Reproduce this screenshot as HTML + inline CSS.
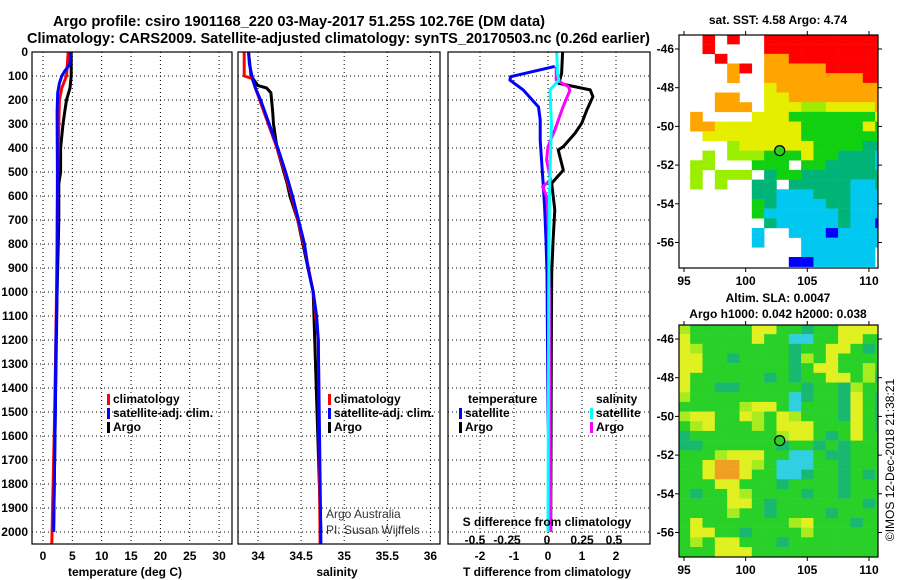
<!DOCTYPE html>
<html><head><meta charset="utf-8">
<style>
html,body{margin:0;padding:0;background:#fff;}
svg{display:block;font-family:"Liberation Sans",sans-serif;}
.t{font-size:12px;font-weight:bold;fill:#000;}
</style></head>
<body>
<svg id="fig" width="900" height="580" viewBox="0 0 900 580" xmlns="http://www.w3.org/2000/svg">
<rect width="900" height="580" fill="#fff"/>
<text x="53" y="26" class="t" style="font-size:15px" textLength="492" lengthAdjust="spacingAndGlyphs">Argo profile: csiro 1901168_220 03-May-2017 51.25S 102.76E (DM data)</text>
<text x="27" y="43" class="t" style="font-size:15px" textLength="623" lengthAdjust="spacingAndGlyphs">Climatology: CARS2009. Satellite-adjusted climatology: synTS_20170503.nc (0.26d earlier)</text>
<g id="g"></g>
</svg>
<script>
// ---- profile data (depth in m) ----
const tClimDepth = [0,100,150,200,300,500,800,1200,1600,2050];
const tClimVal   = [4.3,4.0,3.2,2.8,2.7,2.5,2.4,2.2,1.9,1.5];
const tSatDepth  = [0,50,80,100,130,170,250,500,1000,1200,1500,2000];
const tSatVal    = [4.7,4.6,3.7,3.2,2.8,2.5,2.4,2.45,2.4,2.2,2.1,1.8];
const tArgoDepth = [0,100,150,200,250,300,400,500,550,700,1000,1500,2000];
const tArgoVal   = [4.8,4.8,4.6,4.0,3.7,3.4,3.0,3.0,2.7,2.7,2.4,2.1,1.8];

const sClimDepth = [0,100,110,150,200,300,400,500,600,700,800,1000,1200,2050];
const sClimVal   = [33.84,33.84,33.93,33.97,34.02,34.12,34.22,34.31,34.39,34.46,34.53,34.64,34.70,34.72];
const sSatDepth  = [0,50,100,150,200,300,400,500,600,700,800,900,1000,1100,1200,2050];
const sSatVal    = [33.89,33.9,33.93,33.97,34.03,34.13,34.23,34.32,34.40,34.47,34.54,34.58,34.64,34.68,34.70,34.73];
const sArgoDepth = [0,100,140,150,170,250,300,400,450,500,550,600,700,1000,2000];
const sArgoVal   = [33.89,33.92,34.0,34.1,34.15,34.17,34.18,34.22,34.26,34.30,34.34,34.37,34.46,34.64,34.73];

const dtSatDepth  = [60,103,117,158,229,283,367,533,644,783,922,1500,2000];
const dtSatVal    = [0.2,-1.1,-1.12,-0.73,-0.28,-0.23,-0.23,-0.15,-0.1,-0.06,-0.03,0.0,0.08];
const dtArgoDepth = [0,89,131,158,186,242,297,339,394,408,492,547,658,783,922,1144,2000];
const dtArgoVal   = [0.43,0.4,0.32,1.24,1.32,1.14,0.99,0.79,0.45,0.3,0.45,0.11,0.2,0.15,0.11,0.1,0.08];
const dsSatDepth  = [0,89,117,158,300,600,1000,2000];
const dsSatVal    = [0.064,0.07,0.08,0.015,0.025,0.01,0.005,0.0];
const dsArgoDepth = [61,117,144,160,229,325,394,450,533,561,603,672,1000,2000];
const dsArgoVal   = [0.06,0.06,0.15,0.16,0.11,0.05,0,-0.01,0.02,-0.04,-0.01,0,0.01,0.02];

// ticks
const depthTicks = [0,100,200,300,400,500,600,700,800,900,1000,1100,1200,1300,1400,1500,1600,1700,1800,1900,2000];
const tTicks = [0,5,10,15,20,25,30];
const sTicks = [34,34.5,35,35.5,36];
const sTickLabels = ["34","34.5","35","35.5","36"];
const dtTicks = [-2,-1,0,1,2];
const dsTicks = [-0.5,-0.25,0,0.25,0.5];
const dsTickLabels = ["-0.5","-0.25","0","0.25","0.5"];
const lonTicks = [95,100,105,110];
const latTicks = [-46,-48,-50,-52,-54,-56];

// map grids: columns lon 95..111 (1 deg), rows lat -45.5..-57 (0.5 deg)
const sstGrid = [
"..R.R..RRRRRRRRRR","..R....RRRRRRRRRR","...R...OORRRRRRRR","....OR.OOOOORRRRR",
"....O..OOOOOOOORR",".......YOOOOOOOOO","...OO..YYOOOOOOOO","...OOO.YYYLLYYYYO",
".O....YYYGGGGGGGY",".OOYYYYYYYGGGGGYG","..YYYYYYYYGGGGGGG","....LYYYYYYGGGGTT",
"..L.LLLGGGYGGTTTC",".LL...GGG.GGTTTTC",".L.LLL.TGGTTTTTTT",".L.L..TT.TTTTTCCT",
"......TTCCCTTTCCC","......GTCCCCTTCCC","......GCCCCCCTCCC",".......TCCCCCTCCB",
"......C..CCCBCCCC","......C...CCCCCCC","..........CCCCCC.",".........BBCCCCC."];
const slaGrid = [
"LGGGGGYYGGTGGYYYY","YGGGGGYGGCCGGYYGG","YLGGGGGGGTGGYYGTG","YYGGTGGGGTLGYGGGG",
"YYGGGGGGGTGYYGGLG","YGGGGGGTGTGGYYGLT","YGGTTGGGGGTGGTLGG","LGGGGGGGGCTGGTYGT",
"GGGGGLYYGCGGGTYGT","LYYGGYLGYLGGGTYGT","GLYGGGLGYYYGGGYGT","TGGGGGGGLYYGTGYGG",
"TTGGGGGGTGGTGTGGG","GGGLYYYGGCCGTTGGG","GGYOOYLGCCCGGTGGG","GGYOOYGGCCTGGTGTG",
"GGGYYGGGTGGGGTGGG","GTGGYLGGGGTGGTGGG","GGGGYYGTGGGGGGGTG","GGGGLGGTGGGGTGGGG",
"GYGGGGGGGLYGGGTGG","GYYGGTGGGGLGGGGGG","GLGYYGGGTGGGGGGGG","GGGYYYGGGGGGGGGGG"];
const argoLon = 102.76, argoLat = -51.25;

const NS="http://www.w3.org/2000/svg";
const G=document.getElementById('g');
function el(tag,attrs,parent){const e=document.createElementNS(NS,tag);for(const k in attrs)e.setAttribute(k,attrs[k]);(parent||G).appendChild(e);return e;}
function txt(x,y,s,anchor,parent,cls,extra){const e=el('text',Object.assign({x:x,y:y,'text-anchor':anchor||'start',class:cls||'t'},extra||{}),parent);e.textContent=s;return e;}

const TOP=52, BOT=544;
const yD = d => TOP + d*0.24;
const panels = [
 {x0:32,x1:232, f:v=>43+v*5.87},
 {x0:238,x1:440, f:v=>258+(v-34)*86.2},
 {x0:448,x1:650, f:v=>548+v*34}
];
const fS = v => 548 + v*136;

function drawGrid(p, xt, name){
  const g=el('g',{});
  
  
  depthTicks.forEach(d=>{ if(d>0) el('line',{x1:p.x0,x2:p.x1,y1:yD(d),y2:yD(d),stroke:'#000','stroke-width':1,'stroke-dasharray':'1,3'},g);});
  xt.forEach(v=>{const x=p.f(v); el('line',{x1:x,x2:x,y1:TOP,y2:BOT,stroke:'#000','stroke-width':1,'stroke-dasharray':'1,3'},g);});
}
function drawFrame(p,name){
  const r=el('rect',{x:p.x0,y:TOP,width:p.x1-p.x0,height:BOT-TOP,fill:'none',stroke:'#000','stroke-width':1.2});
  
  
}
function drawLine(depths,vals,fx,color,name){
  const pts=depths.map((d,i)=>fx(vals[i]).toFixed(1)+','+yD(d).toFixed(1)).join(' ');
  const l=el('polyline',{points:pts,fill:'none',stroke:color,'stroke-width':3,'stroke-linejoin':'round'});
  
  
}
drawGrid(panels[0],tTicks,'temperature');
drawLine(tArgoDepth,tArgoVal,panels[0].f,'#000','temperature-argo-line');
drawLine(tClimDepth,tClimVal,panels[0].f,'#f00','temperature-climatology-line');
drawLine(tSatDepth,tSatVal,panels[0].f,'#00f','temperature-satellite-line');
drawFrame(panels[0],'temperature');
drawGrid(panels[1],sTicks,'salinity');
drawLine(sArgoDepth,sArgoVal,panels[1].f,'#000','salinity-argo-line');
drawLine(sClimDepth,sClimVal,panels[1].f,'#f00','salinity-climatology-line');
drawLine(sSatDepth,sSatVal,panels[1].f,'#00f','salinity-satellite-line');
drawFrame(panels[1],'salinity');
drawGrid(panels[2],dtTicks,'difference');
drawLine(dtArgoDepth,dtArgoVal,panels[2].f,'#000','t-diff-argo-line');
drawLine(dtSatDepth,dtSatVal,panels[2].f,'#00f','t-diff-satellite-line');
drawLine(dsArgoDepth,dsArgoVal,fS,'#f0f','s-diff-argo-line');
drawLine(dsSatDepth,dsSatVal,fS,'#0ff','s-diff-satellite-line');
drawFrame(panels[2],'difference');

depthTicks.forEach(d=>{const t=txt(28,yD(d)+4,String(d),'end');
 
 });
tTicks.forEach(v=>{const t=txt(panels[0].f(v),560,String(v),'middle');
 
 });
sTicks.forEach((v,i)=>{const t=txt(panels[1].f(v),560,sTickLabels[i],'middle');
 
 });
dtTicks.forEach(v=>{const t=txt(panels[2].f(v),560,String(v),'middle');
 
 });
const dsLabelX=[475,507,547,582,614];
dsTicks.forEach((v,i)=>{const t=txt(dsLabelX[i],544,dsTickLabels[i],'middle');
 
 });

function legend(x,y,color,label,name){
  const m=el('rect',{x:x,y:y-9,width:3,height:11,fill:color});
  
  
  const t=txt(x+6,y,label,'start');
  
  
}
legend(107,403,'#f00','climatology','legend-climatology-temp');
legend(107,417,'#00f','satellite-adj. clim.','legend-satellite-temp');
legend(107,431,'#000','Argo','legend-argo-temp');
legend(328,403,'#f00','climatology','legend-climatology-sal');
legend(328,417,'#00f','satellite-adj. clim.','legend-satellite-sal');
legend(328,431,'#000','Argo','legend-argo-sal');
legend(459,417,'#00f','satellite','legend-t-satellite');
legend(459,431,'#000','Argo','legend-t-argo');
legend(590,417,'#0ff','satellite','legend-s-satellite');
legend(590,431,'#f0f','Argo','legend-s-argo');
</script>
<script>
(function(){
const NS="http://www.w3.org/2000/svg";const G=document.getElementById('g');
function el(tag,attrs,parent){const e=document.createElementNS(NS,tag);for(const k in attrs)e.setAttribute(k,attrs[k]);(parent||G).appendChild(e);return e;}
function txt(x,y,s,anchor,extra){const e=el('text',Object.assign({x:x,y:y,'text-anchor':anchor,class:'t'},extra||{}));e.textContent=s;return e;}
let t;
t=txt(468,403,'temperature','start');


t=txt(596,403,'salinity','start');


t=txt(326,518,'Argo Australia','start',{style:'font-weight:normal;fill:#333'});


t=txt(326,534,'PI: Susan Wijffels','start',{style:'font-weight:normal;fill:#333'});


t=txt(547,526,'S difference from climatology','middle');


t=txt(125,576,'temperature (deg C)','middle');


t=txt(337,576,'salinity','middle');


t=txt(547,576,'T difference from climatology','middle');



const colors={R:'#ff0000',O:'#ffa500',Y:'#e6ee00',L:'#9cee00',G:'#10d010',T:'#00b478',C:'#00c8f0',B:'#0000ff'};
const slaColors={G:'#28d028',Y:'#e0f020',L:'#a8ec20',T:'#18b870',C:'#30d0e0',O:'#f0a020'};
const X0=679,X1=878, fx=lon=>684+(lon-95)*12.33;
function drawMap(y0,y1,grid,cmap,name,id){
  const fy=lat=>y0+14+(-46-lat)*19.35;
  const g=el('g',{});
  
  
  const cp=el('clipPath',{id:id},g);el('rect',{x:X0,y:y0,width:X1-X0,height:y1-y0},cp);
  const cells=el('g',{'clip-path':'url(#'+id+')'},g);
  el('rect',{x:X0,y:y0,width:X1-X0,height:y1-y0,fill:'#fff'},cells);
  grid.forEach((row,r)=>{const lat=-45.5-0.5*r;
    for(let c=0;c<row.length;c++){const ch=row[c];if(!cmap[ch])continue;const lon=95+c;
      const cell=el('rect',{x:fx(lon-0.5),y:fy(lat+0.25),width:12.6,height:9.9,fill:cmap[ch]},cells);
      
      }
  });
  const dot=el('circle',{cx:fx(argoLon),cy:fy(argoLat),r:5,fill:'#30d020',stroke:'#000','stroke-width':1.2},g);
  
  
  el('rect',{x:X0,y:y0,width:X1-X0,height:y1-y0,fill:'none',stroke:'#000','stroke-width':1.2},g);
  lonTicks.forEach(v=>{el('line',{x1:fx(v),x2:fx(v),y1:y0,y2:y0-4,stroke:'#000'},g);el('line',{x1:fx(v),x2:fx(v),y1:y1,y2:y1+4,stroke:'#000'},g);
    const l=txt(fx(v),y1+17,String(v),'middle');
    
    });
  latTicks.forEach(v=>{el('line',{x1:X0,x2:X0-4,y1:fy(v),y2:fy(v),stroke:'#000'},g);el('line',{x1:X1,x2:X1+4,y1:fy(v),y2:fy(v),stroke:'#000'},g);
    const l=txt(674,fy(v)+4,String(v),'end');
    
    });
}
drawMap(35,268,sstGrid,colors,'sst-map','clipA');
drawMap(325,557,slaGrid,slaColors,'sla-map','clipB');
t=txt(778,24,'sat. SST: 4.58 Argo: 4.74','middle');


t=txt(778,302,'Altim. SLA: 0.0047','middle');


t=txt(778,318,'Argo h1000: 0.042 h2000: 0.038','middle');


t=txt(0,0,'©IMOS 12-Dec-2018 21:38:21','middle',{transform:'translate(894,460) rotate(-90)',style:'font-weight:normal'});


})();
</script>
</body></html>
